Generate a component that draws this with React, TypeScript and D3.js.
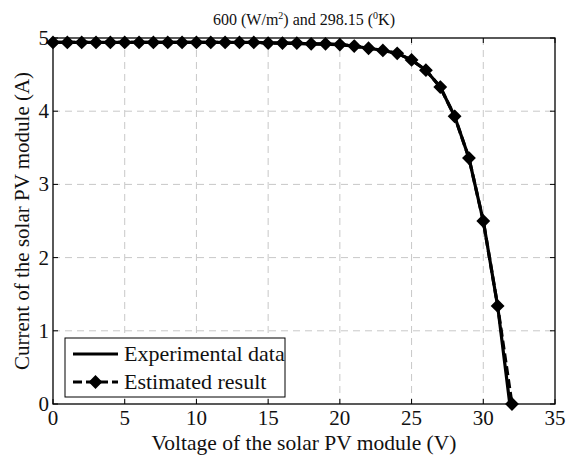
import React from "react";
import * as d3 from "d3";

const voltage: number[] = [0,1,2,3,4,5,6,7,8,9,10,11,12,13,14,15,16,17,18,19,20,21,22,23,24,25,26,27,28,29,30,31,32];
const estCurrent: number[] = [4.94,4.94,4.94,4.94,4.94,4.94,4.94,4.94,4.94,4.94,4.94,4.94,4.94,4.94,4.94,4.93,4.93,4.93,4.92,4.92,4.91,4.89,4.86,4.83,4.79,4.70,4.56,4.33,3.93,3.36,2.50,1.34,0.0];
const expVoltage: number[] = [0,2,4,6,8,10,12,14,16,18,20,21,22,23,24,25,26,27,28,29,30,31,31.85];
const expCurrent: number[] = [4.94,4.94,4.94,4.94,4.94,4.94,4.94,4.94,4.93,4.92,4.91,4.89,4.86,4.83,4.79,4.70,4.56,4.33,3.93,3.36,2.50,1.34,0.0];
const xTicks: number[] = [0,5,10,15,20,25,30,35];
const yTicks: number[] = [0,1,2,3,4,5];

const W = 580, H = 456;
const L = 53, R = 555, T = 38, B = 404;
const FONT = "Liberation Serif";
const FS = 21;

export default function App() {
  const x = d3.scaleLinear().domain([0, 35]).range([L, R]);
  const y = d3.scaleLinear().domain([0, 5]).range([B, T]);
  const lineExp = d3.line<number>().x((_, i) => x(expVoltage[i])).y((d) => y(d));
  const lineEst = d3.line<number>().x((_, i) => x(voltage[i])).y((d) => y(d));
  const diamond = (cx: number, cy: number, s = 5.5) =>
    `M${cx},${cy - s}L${cx + s},${cy}L${cx},${cy + s}L${cx - s},${cy}Z`;
  const tick = 5;
  return (
    <svg width={W} height={H} style={{ position: "absolute", left: 0, top: 0, background: "#fff", fontFamily: FONT }}>
      <rect x={0} y={0} width={W} height={H} fill="#fff" />
      {xTicks.filter((t) => t > 0 && t < 35).map((t) => (
        <line key={"gx" + t} x1={x(t)} x2={x(t)} y1={T} y2={B} stroke="#c8c8c8" strokeWidth={1} strokeDasharray="7,5" />
      ))}
      {yTicks.filter((t) => t > 0 && t < 5).map((t) => (
        <line key={"gy" + t} x1={L} x2={R} y1={y(t)} y2={y(t)} stroke="#c8c8c8" strokeWidth={1} strokeDasharray="7,5" />
      ))}
      {xTicks.map((t) => (
        <g key={"tx" + t}>
          <line x1={x(t)} x2={x(t)} y1={B} y2={B - tick} stroke="#000" />
          <line x1={x(t)} x2={x(t)} y1={T} y2={T + tick} stroke="#000" />
          <text x={x(t)} y={B + 21} fontSize={FS} textAnchor="middle" fill="#111">{t}</text>
        </g>
      ))}
      {yTicks.map((t) => (
        <g key={"ty" + t}>
          <line x1={L} x2={L + tick} y1={y(t)} y2={y(t)} stroke="#000" />
          <line x1={R} x2={R - tick} y1={y(t)} y2={y(t)} stroke="#000" />
          <text x={L - 4} y={y(t) + 7} fontSize={FS} textAnchor="end" fill="#111">{t}</text>
        </g>
      ))}
      <rect x={L} y={T} width={R - L} height={B - T} fill="none" stroke="#000" strokeWidth={1.3} />
      <path d={lineExp(expCurrent) || ""} fill="none" stroke="#000" strokeWidth={3.2} strokeLinejoin="round" />
      <path d={lineEst(estCurrent) || ""} fill="none" stroke="#000" strokeWidth={3.2} strokeDasharray="9,4" />
      {estCurrent.map((c, i) => (
        <path key={"m" + i} d={diamond(x(voltage[i]), y(c))} fill="#000" stroke="#000" strokeWidth={2} />
      ))}
      <rect x={65} y={338} width={220} height={59} fill="#fff" stroke="#000" strokeWidth={1} />
      <line x1={73} x2={118} y1={354} y2={354} stroke="#000" strokeWidth={3.2} />
      <text x={124} y={361} fontSize={22} fill="#111">Experimental data</text>
      <line x1={73} x2={118} y1={382} y2={382} stroke="#000" strokeWidth={3.2} strokeDasharray="9,4" />
      <path d={diamond(95.5, 382)} fill="#000" stroke="#000" strokeWidth={2} />
      <text x={124} y={389} fontSize={22} fill="#111">Estimated result</text>
      <text x={(L + R) / 2} y={25} fontSize={16} textAnchor="middle" fill="#111">
        600 (W/m<tspan dy={-6} fontSize={10}>2</tspan><tspan dy={6}>) and 298.15 (</tspan><tspan dy={-6} fontSize={10}>0</tspan><tspan dy={6}>K)</tspan>
      </text>
      <text x={(L + R) / 2} y={450} fontSize={21.5} textAnchor="middle" fill="#111">Voltage of the solar PV module (V)</text>
      <text transform={`translate(29,${(T + B) / 2}) rotate(-90)`} fontSize={21} textAnchor="middle" fill="#111">Current of the solar PV module (A)</text>
    </svg>
  );
}
